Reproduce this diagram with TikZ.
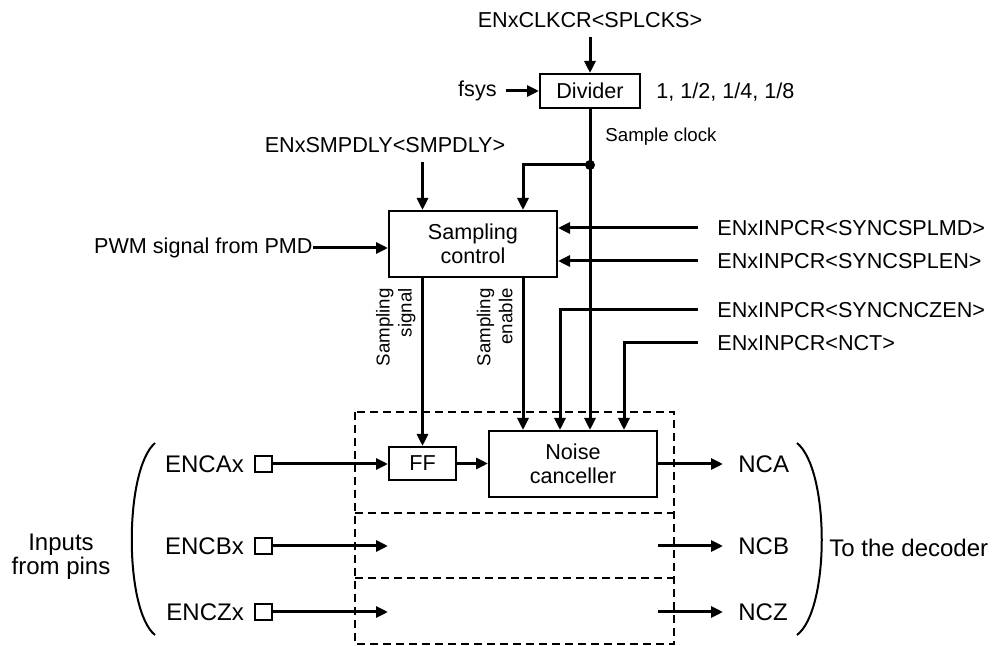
\documentclass[tikz,border=0pt]{standalone}
\usepackage{fontspec}
\setmainfont{Liberation Sans}
\usepackage{tikz}
\usetikzlibrary{arrows.meta,calc,positioning}

\begin{document}
\begin{tikzpicture}[x=0.5pt,y=-0.5pt,
  font=\fontsize{10.8pt}{12pt}\selectfont,
  sig/.style={line width=1.5pt,-{Triangle[length=6pt,width=5.5pt]}},
  blk/.style={draw,line width=1pt,align=center,inner sep=0pt},
  lbl/.style={inner sep=0pt},
  small/.style={font=\fontsize{9.35pt}{11pt}\selectfont},
  big/.style={font=\fontsize{12pt}{12pt}\selectfont},
  reg/.style={lbl,anchor=west,inner xsep=9.5pt},
  outlbl/.style={lbl,big,anchor=west,inner xsep=7.5pt},
  pinbox/.style={draw,rectangle,line width=0.8pt,minimum width=8.5pt,minimum height=8pt,inner sep=0pt},
  frame/.style={line width=1pt,dash pattern=on 4pt off 2.5pt}]
\useasboundingbox (0,0) rectangle (997,646);

\node[lbl,inner ysep=4.5pt] (clkreg) at (590,20) {ENxCLKCR<SPLCKS>};
\node[blk,minimum width=50pt,minimum height=17pt] (div) at (590,91) {Divider};
\node[lbl,anchor=east,inner xsep=4.5pt] (fsys) at (506,91) {fsys};
\node[lbl,anchor=west] (ratio) at (656,92) {1, 1/2, 1/4, 1/8};
\node[lbl,small,anchor=west] (sclk) at (605,137) {Sample clock};
\node[circle,fill,inner sep=0pt,minimum size=5pt] (dot) at (590,165) {};
\node[lbl,inner ysep=4.5pt] (smpdly) at (385,145) {ENxSMPDLY<SMPDLY>};

\node[blk,minimum width=84pt,minimum height=33pt] (ctrl) at (473,244) {Sampling\\control};
\node[lbl,anchor=east] (pwm) at (313,248) {PWM signal from PMD};
\node[reg] (splmd) at (698,228) {ENxINPCR<SYNCSPLMD>};
\node[reg] (splen) at (698,261) {ENxINPCR<SYNCSPLEN>};
\node[reg] (nczen) at (698,310) {ENxINPCR<SYNCNCZEN>};
\node[reg] (nct) at (698,343) {ENxINPCR<NCT>};

\node[lbl,small,rotate=90,align=right,anchor=south east] (sslbl) at (416,288) {Sampling\\signal};
\node[lbl,small,rotate=90,align=right,anchor=south east] (selbl) at (513,288) {Sampling\\enable};

\node[blk,minimum width=33.5pt,minimum height=16.5pt] (ff) at (422.5,463.5) {FF};
\node[blk,minimum width=84pt,minimum height=33pt] (nc) at (573,464) {Noise\\canceller};

\node[pinbox] (pina) at (263.5,464) {};
\node[pinbox] (pinb) at (263.5,546) {};
\node[pinbox] (pinz) at (263.5,612) {};
\node[lbl,big,left=5pt of pina] (encal) {ENCAx};
\node[lbl,big,left=5pt of pinb] (encbl) {ENCBx};
\node[lbl,big,left=5pt of pinz] (enczl) {ENCZx};
\node[outlbl] (nca) at (723,464) {NCA};
\node[outlbl] (ncb) at (723,546) {NCB};
\node[outlbl] (ncz) at (723,612) {NCZ};
\node[lbl,big,align=center] (inputs) at (61,557) {Inputs\\from pins};
\node[lbl,big,anchor=west] (dec) at (829,548) {To the decoder};

\draw[frame] (355,412) rectangle (674,644);
\draw[frame] (355,513) -- (674,513);
\draw[frame] (355,578) -- (674,578);

\draw[sig] (clkreg.south) -- (div.north);
\draw[sig] (fsys.east) -- (div.west);
\draw[sig] (div.south) -- (div.south |- nc.north);
\draw[sig] (dot.center) -| (523,0 |- ctrl.north);
\draw[sig] (smpdly.south -| ff.north) -- (ff.north |- ctrl.north);
\draw[sig] (pwm.east) -- (pwm.east -| ctrl.west);
\draw[sig] (splmd.west) -- (splmd.west -| ctrl.east);
\draw[sig] (splen.west) -- (splen.west -| ctrl.east);
\draw[sig] (nczen.west) -| (560,0 |- nc.north);
\draw[sig] (nct.west) -| (624,0 |- nc.north);
\draw[sig] (ff.north |- ctrl.south) -- (ff.north);
\draw[sig] (523,0 |- ctrl.south) -- (523,0 |- nc.north);

\draw[sig] (pina.east) -- (ff.west |- pina.east);
\draw[sig] (ff.east) -- (ff.east -| nc.west);
\draw[sig] (nc.east |- nca.west) -- (nca.west);
\draw[sig] (pinb.east) -- (ff.west |- pinb.east);
\draw[sig] (pinz.east) -- (ff.west |- pinz.east);
\draw[sig] (nc.east |- ncb.west) -- (ncb.west);
\draw[sig] (nc.east |- ncz.west) -- (ncz.west);

\draw[line width=1pt] (155,443) .. controls (124,470) and (124,610) .. (155,635);
\draw[line width=1pt] (797,443) .. controls (830,470) and (830,610) .. (797,635);
\end{tikzpicture}
\end{document}
